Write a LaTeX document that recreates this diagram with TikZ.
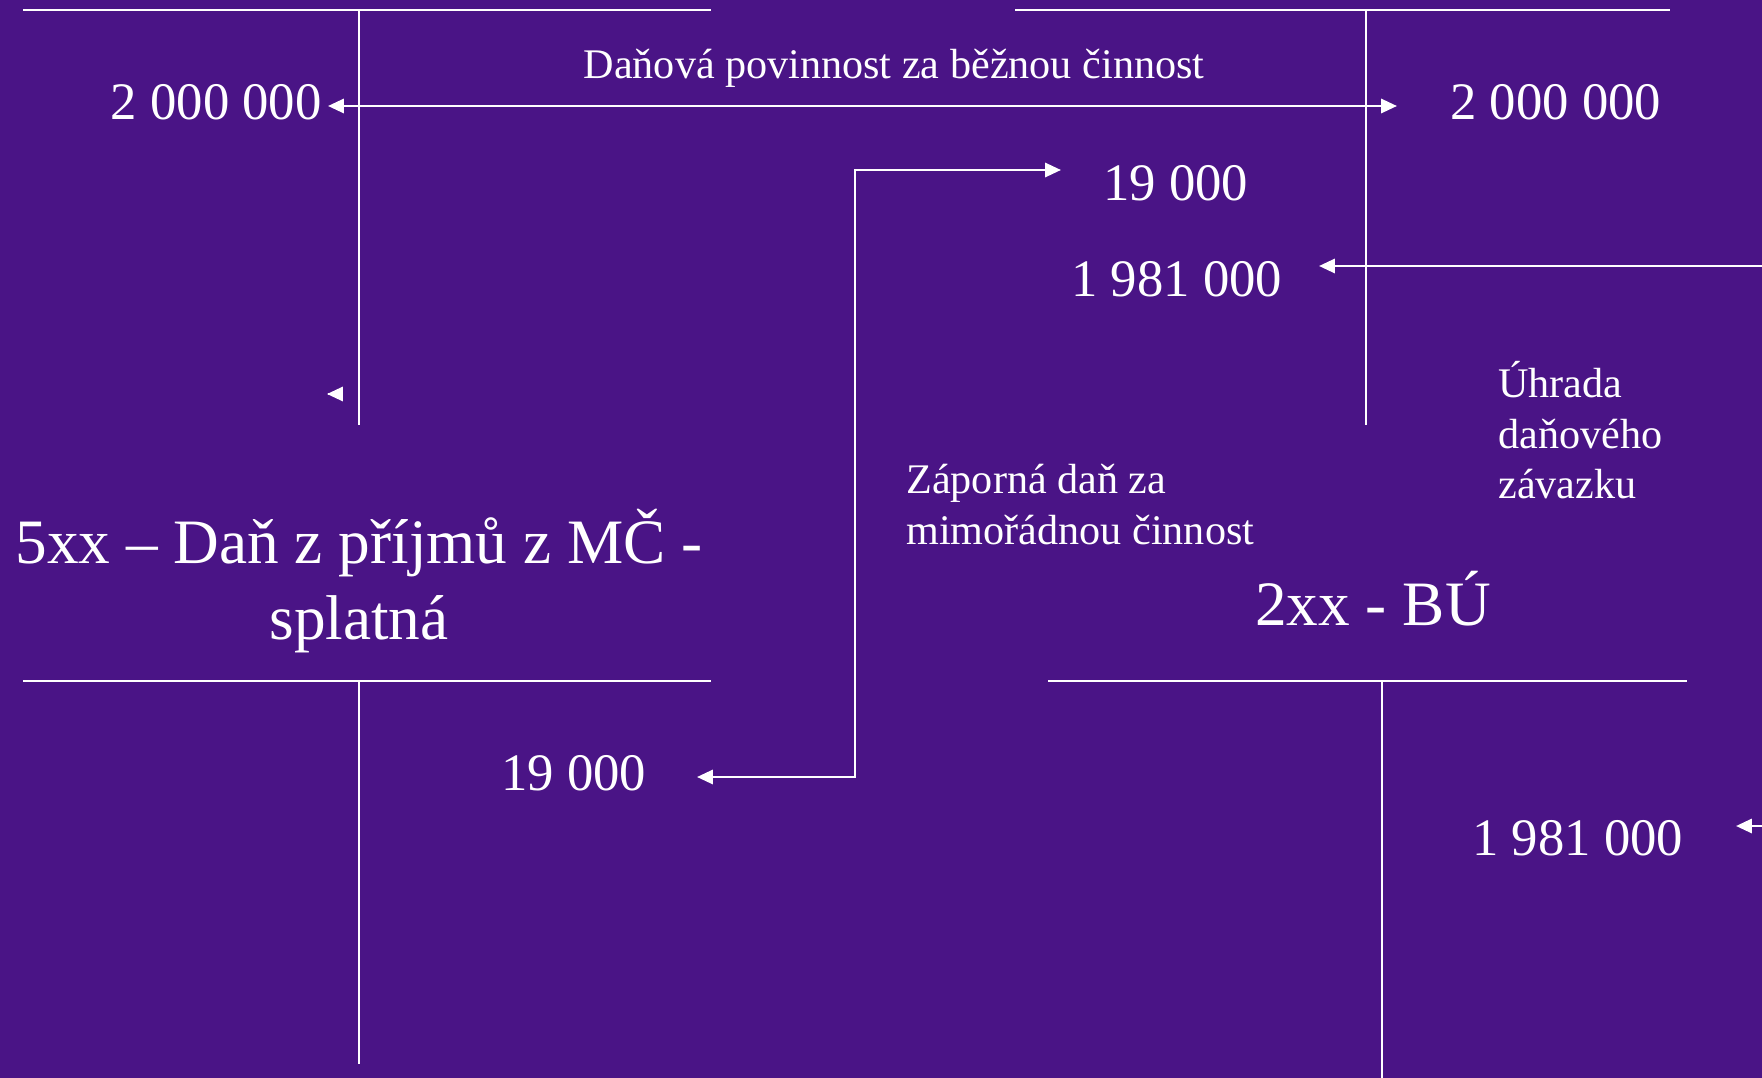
\documentclass[tikz,border=0pt]{standalone}
\usepackage{fontspec}
\setmainfont{Liberation Serif}
\definecolor{BackColor}{RGB}{74,20,134}
\definecolor{LineColor}{RGB}{255,255,255}
\usetikzlibrary{arrows.meta, positioning}
\tikzstyle{tline} = [LineColor, line width=1.1pt]
\tikzstyle{flow} = [LineColor, line width=1.5pt, ->, >={Triangle[length=9pt, width=8pt]}]
\tikzstyle{amount} = [text=LineColor, inner sep=0pt, font=\fontsize{30}{36}\selectfont]
\tikzstyle{note} = [text=LineColor, inner sep=0pt, align=left, font=\fontsize{24}{28.8}\selectfont]
\tikzstyle{account} = [text=LineColor, inner sep=0pt, align=center, font=\fontsize{36}{43}\selectfont]

\begin{document}
\begin{tikzpicture}[x=0.02cm, y=-0.02cm]
            \fill[BackColor] (0,0) rectangle (1762,1078);
            \useasboundingbox (0,0) rectangle (1762,1078);

            % Upper T accounts
            \draw[tline] (23,10) -- (711,10);
            \draw[tline] (359,10) -- (359,425);
            \draw[tline] (1015,10) -- (1670,10);
            \draw[tline] (1366,10) -- (1366,425);

            % Lower T accounts
            \draw[tline] (23,681) -- (711,681);
            \draw[tline] (359,681) -- (359,1064);
            \draw[tline] (1048,681) -- (1687,681);
            \draw[tline] (1382,681) -- (1382,1078);

            % Amounts
            \node[amount, anchor=base east] (debitL) at (322,120) {2 000 000};
            \node[amount, anchor=base west] (creditR) at (1450,120) {2 000 000};
            \node[amount, anchor=base west] (negTop) at (1103,200) {19 000};
            \node[amount, anchor=base west] (payTop) at (1071,296) {1 981 000};
            \node[amount, anchor=base west] (negBot) at (501,790) {19 000};
            \node[amount, anchor=base west] (payBot) at (1472,855) {1 981 000};

            % Labels
            \node[note, anchor=base] (dutyLbl) at (894,79) {Daňová povinnost za běžnou činnost};
            \node[note, anchor=north west] (payLbl) at (1498,361) {Úhrada\\daňového\\závazku};
            \node[note, anchor=north west] (negLbl) at (906,464) {Záporná daň za\\mimořádnou činnost};
            \node[account, anchor=north] (taxAcc) at (359,509) {5xx – Daň z příjmů z MČ -\\splatná};
            \node[account, anchor=base] (bankAcc) at (1373,625) {2xx - BÚ};

            % Flows
            \coordinate (dutyL) at (328,106);
            \coordinate (dutyR) at (1397,106);
            \draw[flow, <->] (dutyL) -- (dutyR);

            \coordinate (negEnd) at (697,777);
            \coordinate (negStart) at (1061,170);
            \draw[flow, <->] (negEnd) -- ++(158,0) |- (negStart);

            \coordinate (payIn) at (1762,266);
            \coordinate (payEnd) at (1319,266);
            \draw[flow] (payIn) -- (payEnd);

            \coordinate (stubL) at (328,394);
            \draw[flow] (stubL) -- ++(-1,0);
            \coordinate (stubR) at (1762,826);
            \draw[flow] (stubR) -- (1736,826);
        \end{tikzpicture}
\end{document}
